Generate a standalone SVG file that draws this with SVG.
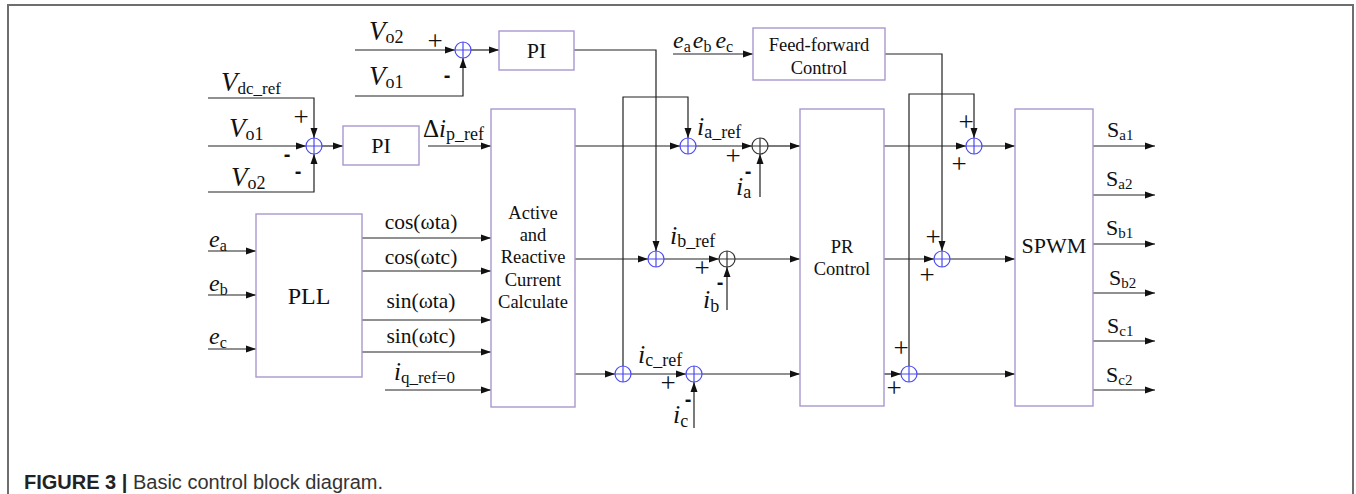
<svg xmlns="http://www.w3.org/2000/svg" xmlns:xlink="http://www.w3.org/1999/xlink" width="1356" height="494" viewBox="0 0 1356 494">
<style>
.box{fill:#fff;stroke:#a898cf;stroke-width:1.4}
.w{fill:none;stroke:#222;stroke-width:1.2}
.sb circle,.sb path{fill:none;stroke:#4b4bf0;stroke-width:1.2}
.sk circle,.sk path{fill:none;stroke:#333;stroke-width:1.2}
.t{font-family:"Liberation Serif","Times New Roman",serif;fill:#111}
.it{font-style:italic}
.bt{font-family:"Liberation Serif","Times New Roman",serif;fill:#111;font-size:18.5px;text-anchor:middle}
.sg{font-family:"Liberation Serif","Times New Roman",serif;fill:#111;font-size:27px;text-anchor:middle;dominant-baseline:central}
.mn{font-family:"Liberation Sans",Arial,sans-serif;fill:#111;font-size:20px;font-weight:bold;text-anchor:middle;dominant-baseline:central}
.cap{font-family:"Liberation Sans",Arial,sans-serif;font-size:20px;fill:#333}
</style>
<defs>
<marker id="ah" viewBox="0 0 10 8" refX="10" refY="4" markerWidth="10" markerHeight="8" markerUnits="userSpaceOnUse" orient="auto">
<path d="M0,0.5 L10,4 L0,7.5 z" fill="#111"/>
</marker>
<g id="sumB" class="sb"><circle cx="0" cy="0" r="8" fill="none"/><path d="M-8,0 H8 M0,-8 V8"/></g>
<g id="sumK" class="sk"><circle cx="0" cy="0" r="8" fill="none"/><path d="M-8,0 H8 M0,-8 V8"/></g>
</defs>

<rect x="0" y="0" width="1356" height="494" fill="#fff"/>
<path d="M8,494 V5 H1353 V494" fill="none" stroke="#6e6e6e" stroke-width="2"/>

<!-- connectors -->
<g id="connectors" class="w" marker-end="url(#ah)">
<path d="M355,50 H455"/>
<path d="M355,96 H463 V58"/>
<path d="M471,50 H499"/>
<path d="M574,50 H656 V251"/>
<path d="M208,98 H314 V138"/>
<path d="M208,146 H306"/>
<path d="M208,192 H314 V154"/>
<path d="M322,146 H343"/>
<path d="M428,146 H491"/>
<path d="M208,251 H256"/>
<path d="M208,295 H256"/>
<path d="M208,349 H256"/>
<path d="M362,238 H491"/>
<path d="M362,271 H491"/>
<path d="M362,320 H491"/>
<path d="M362,352 H491"/>
<path d="M385,390 H491"/>
<path d="M575,146 H680"/>
<path d="M696,146 H752"/>
<path d="M760,197 V154"/>
<path d="M768,146 H800"/>
<path d="M623,366 V97 H688 V138"/>
<path d="M575,259 H648"/>
<path d="M664,259 H719"/>
<path d="M727,310 V267"/>
<path d="M735,259 H800"/>
<path d="M575,374 H615"/>
<path d="M631,374 H686"/>
<path d="M694,428 V382"/>
<path d="M702,374 H800"/>
<path d="M673,54 H753"/>
<path d="M885,54 H942 V251"/>
<path d="M884,146 H966"/>
<path d="M909,366 V94 H974 V138"/>
<path d="M884,259 H934"/>
<path d="M884,374 H901"/>
<path d="M982,146 H1015"/>
<path d="M950,259 H1015"/>
<path d="M917,374 H1015"/>
<path d="M1093,146 H1155"/>
<path d="M1093,195 H1155"/>
<path d="M1093,244 H1155"/>
<path d="M1093,293 H1155"/>
<path d="M1093,341 H1155"/>
<path d="M1093,390 H1155"/>
</g>

<!-- blocks -->
<g id="pi_top"><rect class="box" x="499" y="31" width="75" height="39"/><text class="t" x="536.5" y="58" font-size="22" text-anchor="middle">PI</text></g>
<g id="pi_dc"><rect class="box" x="343" y="126" width="76" height="39"/><text class="t" x="381" y="153" font-size="22" text-anchor="middle">PI</text></g>
<g id="pll"><rect class="box" x="256" y="214" width="106" height="163"/><text class="t" x="309" y="304" font-size="24" text-anchor="middle">PLL</text></g>
<g id="arcc"><rect class="box" x="491" y="109" width="84" height="298"/>
<text class="bt" x="533" y="219">Active</text>
<text class="bt" x="533" y="241">and</text>
<text class="bt" x="533" y="263">Reactive</text>
<text class="bt" x="533" y="286">Current</text>
<text class="bt" x="533" y="308">Calculate</text></g>
<g id="ff"><rect class="box" x="753" y="28" width="132" height="52"/>
<text class="bt" x="819" y="51">Feed-forward</text>
<text class="bt" x="819" y="74">Control</text></g>
<g id="pr"><rect class="box" x="800" y="109" width="84" height="297"/>
<text class="bt" x="842" y="253">PR</text>
<text class="bt" x="842" y="275">Control</text></g>
<g id="spwm"><rect class="box" x="1015" y="109" width="78" height="297"/>
<text class="t" x="1054" y="253" font-size="22" text-anchor="middle">SPWM</text></g>

<!-- summing junctions -->
<g id="sum_t1"><use xlink:href="#sumB" x="463" y="50"/></g>
<g id="sum_t2"><use xlink:href="#sumB" x="314" y="146"/></g>
<g id="sum_a1"><use xlink:href="#sumB" x="688" y="146"/></g>
<g id="sum_a2"><use xlink:href="#sumK" x="760" y="146"/></g>
<g id="sum_b1"><use xlink:href="#sumB" x="656" y="259"/></g>
<g id="sum_b2"><use xlink:href="#sumK" x="727" y="259"/></g>
<g id="sum_c1"><use xlink:href="#sumB" x="623" y="374"/></g>
<g id="sum_c2"><use xlink:href="#sumB" x="694" y="374"/></g>
<g id="sum_a3"><use xlink:href="#sumB" x="974" y="146"/></g>
<g id="sum_b3"><use xlink:href="#sumB" x="942" y="259"/></g>
<g id="sum_c3"><use xlink:href="#sumB" x="909" y="374"/></g>

<!-- signs -->
<g id="signs">
<text class="sg" x="435" y="41">+</text>
<text class="mn" x="447" y="75">-</text>
<text class="sg" x="301" y="117">+</text>
<text class="mn" x="287" y="154">-</text>
<text class="mn" x="298" y="171">-</text>
<text class="sg" x="733" y="156">+</text>
<text class="mn" x="748" y="171">-</text>
<text class="sg" x="702" y="268">+</text>
<text class="mn" x="720" y="282">-</text>
<text class="sg" x="668" y="383">+</text>
<text class="mn" x="688" y="399">-</text>
<text class="sg" x="966" y="122">+</text>
<text class="sg" x="959" y="164">+</text>
<text class="sg" x="933" y="237">+</text>
<text class="sg" x="927" y="275">+</text>
<text class="sg" x="901" y="348">+</text>
<text class="sg" x="894" y="388">+</text>
</g>

<!-- labels -->
<g id="labels" class="t">
<text x="369" y="40" font-size="27"><tspan class="it">V</tspan><tspan font-size="18" dy="3">o2</tspan></text>
<text x="369" y="85" font-size="27"><tspan class="it">V</tspan><tspan font-size="18" dy="3">o1</tspan></text>
<text x="221" y="91" font-size="27"><tspan class="it">V</tspan><tspan font-size="17" dy="3">dc_ref</tspan></text>
<text x="229" y="137" font-size="27"><tspan class="it">V</tspan><tspan font-size="18" dy="3">o1</tspan></text>
<text x="231" y="186" font-size="27"><tspan class="it">V</tspan><tspan font-size="18" dy="3">o2</tspan></text>
<text x="423" y="137" font-size="25"><tspan>Δ</tspan><tspan class="it">i</tspan><tspan font-size="18" dy="3">p_ref</tspan></text>
<text x="209" y="247" font-size="24"><tspan class="it">e</tspan><tspan font-size="16" dy="4">a</tspan></text>
<text x="209" y="291" font-size="24"><tspan class="it">e</tspan><tspan font-size="16" dy="4">b</tspan></text>
<text x="209" y="344" font-size="24"><tspan class="it">e</tspan><tspan font-size="16" dy="4">c</tspan></text>
<text x="421" y="229" font-size="21.5" text-anchor="middle">cos(ωta)</text>
<text x="421" y="264" font-size="21.5" text-anchor="middle">cos(ωtc)</text>
<text x="421" y="308" font-size="21.5" text-anchor="middle">sin(ωta)</text>
<text x="421" y="343" font-size="21.5" text-anchor="middle">sin(ωtc)</text>
<text x="394" y="380" font-size="25"><tspan class="it">i</tspan><tspan font-size="17" dy="3">q_ref=0</tspan></text>
<text x="697" y="135" font-size="26"><tspan class="it">i</tspan><tspan font-size="18" dy="3">a_ref</tspan></text>
<text x="670" y="244" font-size="26"><tspan class="it">i</tspan><tspan font-size="18" dy="3">b_ref</tspan></text>
<text x="638" y="363" font-size="26"><tspan class="it">i</tspan><tspan font-size="18" dy="3">c_ref</tspan></text>
<text x="736" y="195" font-size="26"><tspan class="it">i</tspan><tspan font-size="18" dy="3">a</tspan></text>
<text x="703" y="308" font-size="26"><tspan class="it">i</tspan><tspan font-size="18" dy="4">b</tspan></text>
<text x="673" y="423" font-size="26"><tspan class="it">i</tspan><tspan font-size="18" dy="4">c</tspan></text>
<text x="673" y="48" font-size="24"><tspan class="it">e</tspan><tspan font-size="16" dy="4">a</tspan><tspan class="it" dy="-4" dx="2">e</tspan><tspan font-size="16" dy="4">b</tspan><tspan class="it" dy="-4" dx="4">e</tspan><tspan font-size="16" dy="4">c</tspan></text>
<text x="1107" y="137" font-size="22">S<tspan font-size="15" dy="3">a1</tspan></text>
<text x="1106" y="186" font-size="22">S<tspan font-size="15" dy="3">a2</tspan></text>
<text x="1106" y="235" font-size="22">S<tspan font-size="15" dy="3">b1</tspan></text>
<text x="1109" y="285" font-size="22">S<tspan font-size="15" dy="3">b2</tspan></text>
<text x="1107" y="333" font-size="22">S<tspan font-size="15" dy="3">c1</tspan></text>
<text x="1106" y="382" font-size="22">S<tspan font-size="15" dy="3">c2</tspan></text>
</g>

<text class="cap" x="24" y="489"><tspan font-weight="bold" fill="#222">FIGURE 3 |</tspan> Basic control block diagram.</text>
</svg>
